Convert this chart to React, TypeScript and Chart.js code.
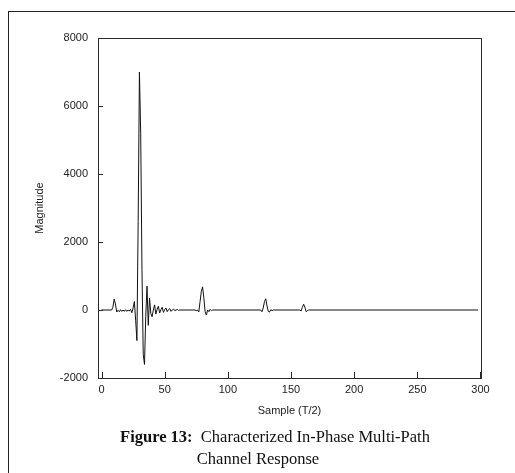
import React, { useEffect, useRef } from "react";
import { Chart, registerables } from "chart.js";

Chart.register(...registerables);

// Sample index (T/2) and magnitude
const samples = [
  0, 8, 9, 10, 11, 12, 13, 14, 15, 16, 17, 18, 19, 20, 21, 22, 23, 24, 25, 26, 27, 28, 29,
  30, 31, 32, 33, 34, 35, 36, 37, 38, 39, 40, 41, 42, 43, 44, 45, 46, 47, 48, 49, 50, 51,
  52, 53, 54, 55, 56, 57, 58, 59, 60, 61, 62, 74, 75, 76, 77, 78, 79, 80, 81, 82, 83, 84,
  85, 86, 87, 88, 126, 127, 128, 129, 130, 131, 132, 133, 134, 135, 136, 157, 158, 159,
  160, 161, 162, 163, 164, 298,
];
const values = [
  0, 0, 80, 320, 180, -60, -10, -50, 10, -40, 0, -40, 10, -40, 0, -30, 20, -80, 60, 250,
  -300, -900, 2600, 7000, 5200, 1200, -1300, -1600, -200, 700, -450, 350, -100, -200, 0,
  150, -120, 20, 110, -90, 10, 80, -70, 10, 60, -50, 10, 40, -40, 0, 30, -20, 0, 15, -10,
  0, 0, -20, 0, -60, 250, 550, 680, 350, -50, -150, 0, -50, 20, -20, 0, 0, -50, 60,
  250, 330, 120, -40, -60, 10, -20, 0, 0, -30, 80, 170, 80, -50, -20, 0, 0,
];

const xTicks = [0, 50, 100, 150, 200, 250, 300];
const yTicks = [-2000, 0, 2000, 4000, 6000, 8000];

const xTitle = "Sample (T/2)";
const yTitle = "Magnitude";
const captionBold = "Figure 13:";
const captionLine1 = "Characterized In-Phase Multi-Path";
const captionLine2 = "Channel Response";

const SANS = "'Liberation Sans', Arial, sans-serif";
const SERIF = "'Liberation Serif', 'Times New Roman', serif";

export default function App() {
  const ref = useRef<HTMLCanvasElement>(null);

  useEffect(() => {
    document.body.style.margin = "0";
    const canvas = ref.current;
    if (!canvas) return;

    const frame = {
      id: "frame",
      afterDraw(chart: any) {
        const { ctx, chartArea: a, scales } = chart;
        const x = scales.x;
        const y = scales.y;
        ctx.save();
        ctx.strokeStyle = "#2a2a2a";
        ctx.lineWidth = 1;
        ctx.beginPath();
        for (const t of xTicks) {
          const px = Math.round(x.getPixelForValue(t)) + 0.5;
          ctx.moveTo(px, a.bottom);
          ctx.lineTo(px, a.bottom - 6);
        }
        for (const t of yTicks) {
          const py = Math.round(y.getPixelForValue(t)) + 0.5;
          ctx.moveTo(a.left, py);
          ctx.lineTo(a.left + 5, py);
        }
        ctx.stroke();
        ctx.strokeRect(
          Math.round(a.left) + 0.5,
          Math.round(a.top) + 0.5,
          Math.round(a.right - a.left),
          Math.round(a.bottom - a.top)
        );
        ctx.restore();
      },
    };

    const chart = new Chart(canvas, {
      type: "line",
      data: {
        datasets: [
          {
            data: samples.map((s, i) => ({ x: s, y: values[i] })),
            borderColor: "#111",
            borderWidth: 1,
            pointRadius: 0,
            tension: 0,
            fill: false,
          },
        ],
      },
      options: {
        animation: false,
        responsive: false,
        maintainAspectRatio: false,
        layout: { padding: { left: 0, top: 38, right: 34, bottom: 0 } },
        plugins: { legend: { display: false }, tooltip: { enabled: false } },
        scales: {
          x: {
            type: "linear",
            min: -2.8,
            max: 300.4,
            afterBuildTicks: (scale: any) => {
              scale.ticks = xTicks.map((v) => ({ value: v }));
            },
            afterFit: (scale: any) => {
              scale.height = 95;
            },
            grid: { display: false, drawTicks: false },
            border: { display: false },
            ticks: {
              padding: 5,
              color: "#222",
              font: { family: SANS, size: 11 },
              maxRotation: 0,
              autoSkip: false,
              callback: (v: any) => String(v),
            },
            title: {
              display: true,
              text: xTitle,
              color: "#222",
              font: { family: SANS, size: 11 },
              padding: { top: 0, bottom: 55 },
            },
          },
          y: {
            type: "linear",
            min: -2000,
            max: 8000,
            afterBuildTicks: (scale: any) => {
              scale.ticks = yTicks.map((v) => ({ value: v }));
            },
            afterFit: (scale: any) => {
              scale.width = 98;
            },
            grid: { display: false, drawTicks: false },
            border: { display: false },
            ticks: {
              padding: 10,
              color: "#222",
              font: { family: SANS, size: 11 },
              autoSkip: false,
              callback: (v: any) => String(v),
            },
            title: {
              display: true,
              text: yTitle,
              color: "#222",
              font: { family: SANS, size: 11 },
              padding: { top: 33, bottom: 0 },
            },
          },
        },
      },
      plugins: [frame],
    });

    return () => chart.destroy();
  }, []);

  return (
    <div style={{ position: "relative", width: 515, height: 473, background: "#fff", overflow: "hidden" }}>
      <div
        style={{
          position: "absolute",
          left: 8,
          top: 11,
          width: 510,
          height: 470,
          borderTop: "1.5px solid #222",
          borderLeft: "1.5px solid #222",
          boxSizing: "border-box",
        }}
      />
      <canvas ref={ref} width={515} height={473} style={{ position: "absolute", left: 0, top: 0 }} />
      <div
        style={{
          position: "absolute",
          left: 275,
          top: 427,
          transform: "translateX(-50%)",
          whiteSpace: "nowrap",
          fontFamily: SERIF,
          fontSize: 16.5,
          lineHeight: "20px",
          color: "#111",
        }}
      >
        <b>{captionBold}</b>
        {"\u00a0 "}
        {captionLine1}
      </div>
      <div
        style={{
          position: "absolute",
          left: 258,
          top: 449,
          transform: "translateX(-50%)",
          whiteSpace: "nowrap",
          fontFamily: SERIF,
          fontSize: 16.5,
          lineHeight: "20px",
          color: "#111",
        }}
      >
        {captionLine2}
      </div>
    </div>
  );
}
